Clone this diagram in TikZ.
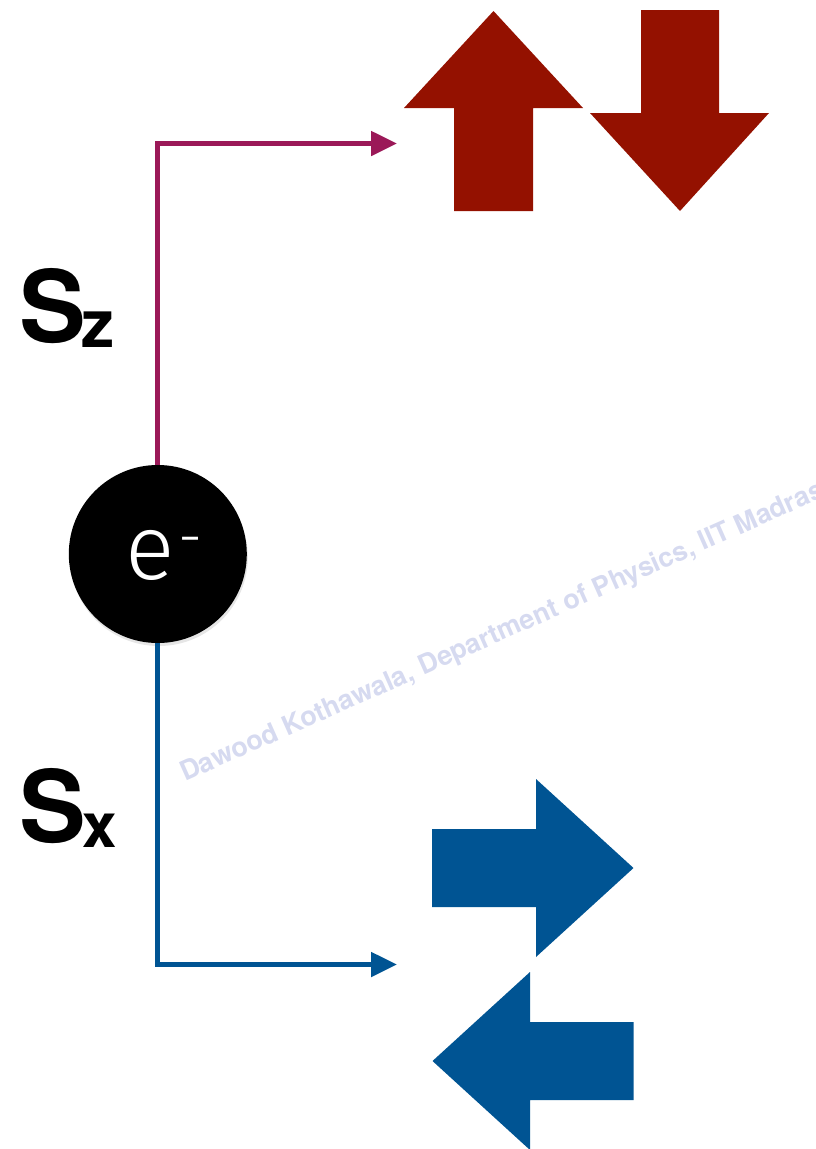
\documentclass[tikz,border=0pt]{standalone}
\usepackage{fontspec}
\setmainfont{TeX Gyre Heros}
\newfontfamily\thinfont{Fira Sans Light}
\usetikzlibrary{arrows.meta,shadows}
\definecolor{cayenne}{RGB}{148,17,0}
\definecolor{maroonline}{RGB}{155,25,88}
\definecolor{ocean}{RGB}{0,84,147}
\definecolor{wmcolor}{RGB}{214,218,240}
\begin{document}
\begin{tikzpicture}[x=1pt,y=-1pt,
    spinline/.style={line width=5pt, -{Triangle[length=26pt,width=24pt]}},
    electron/.style={circle, fill=black, minimum size=178pt, inner sep=0pt,
      drop shadow={opacity=0.2, shadow xshift=1pt, shadow yshift=-3pt}},
    biglabel/.style={anchor=base west, inner sep=0pt, font=\bfseries\fontsize{100}{100}\selectfont},
    wmark/.style={anchor=base west, inner sep=0pt, text=wmcolor, font=\bfseries\fontsize{27}{27}\selectfont}]
    \useasboundingbox (0,0) rectangle (815,1149);
    \clip (0,0) rectangle (815,1149);
    \node[wmark, rotate=24] (wm) at (185,782) {Dawood Kothawala, Department of Physics, IIT Madras};
    \node[electron] (ele) at (157.8,554) {};
    \coordinate (zend) at (397,143.5);
    \coordinate (xend) at (397,964.5);
    \draw[spinline, maroonline] (ele.north) |- (zend);
    \draw[spinline, ocean] (ele.south) |- (xend);
    \node[anchor=base west, inner sep=0pt, text=white] (elabel) at (125,579)
        {\thinfont\fontsize{92}{92}\selectfont e\kern4pt\raisebox{22pt}{\fontsize{60}{60}\selectfont -}};
    \node[biglabel] (sz) at (19,342) {S\kern-4pt\raisebox{-5pt}{\fontsize{66}{66}\selectfont z}};
    \node[biglabel] (sx) at (19,842) {S\kern-3pt\raisebox{-5pt}{\fontsize{62}{62}\selectfont x}};
    \fill[cayenne] (454,211) -- (454,108) -- (404,108) -- (493.5,11) -- (583,108) -- (533,108) -- (533,211) -- cycle;
    \fill[cayenne] (641,10) -- (719,10) -- (719,113) -- (769,113) -- (680,211) -- (590,113) -- (641,113) -- cycle;
    \fill[ocean] (432,829) -- (536,829) -- (536,779) -- (633.5,868) -- (536,957) -- (536,907) -- (432,907) -- cycle;
    \fill[ocean] (633.5,1022) -- (530,1022) -- (530,972) -- (432.5,1061) -- (530,1150) -- (530,1100) -- (633.5,1100) -- cycle;
\end{tikzpicture}
\end{document}
